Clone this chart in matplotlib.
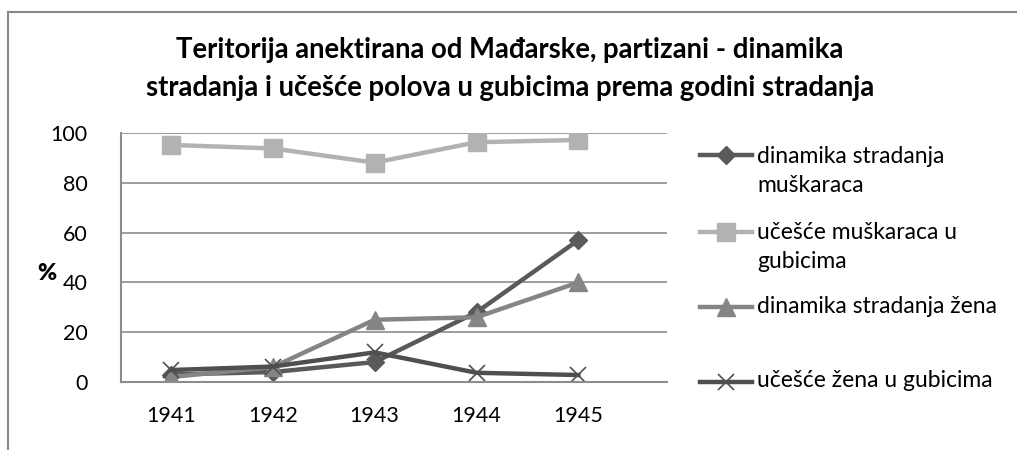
import matplotlib
matplotlib.use("Agg")
import matplotlib.pyplot as plt
from matplotlib.lines import Line2D

plt.rcParams['font.family'] = ['Lato', 'DejaVu Sans']

years = ['1941', '1942', '1943', '1944', '1945']
dinamika_muskaraca = [3, 4, 8, 28, 57]
ucesce_muskaraca = [95.2, 93.8, 88.1, 96.3, 97.2]
dinamika_zena = [2, 6, 25, 26, 40]
ucesce_zena = [4.8, 6.2, 11.9, 3.7, 2.8]

series = [
    ("dinamika stradanja\nmuškaraca", dinamika_muskaraca,
     dict(color='#5a5a5a', marker='D', markersize=9.5, linewidth=3.2)),
    ("učešće muškaraca u\ngubicima", ucesce_muskaraca,
     dict(color='#b2b2b2', marker='s', markersize=12.5, linewidth=3.2)),
    ("dinamika stradanja žena", dinamika_zena,
     dict(color='#858585', marker='^', markersize=12.5, linewidth=3.2)),
    ("učešće žena u gubicima", ucesce_zena,
     dict(color='#4f4f4f', marker='x', markersize=11, linewidth=3.2,
          markeredgewidth=1.2)),
]

W, H = 1017, 450
fig = plt.figure(figsize=(W / 100, H / 100), dpi=100)
ax = fig.add_axes([121 / W, (H - 382) / H, (667 - 121) / W, (382 - 133) / H])

x = list(range(len(years)))
for label, vals, style in series:
    ax.plot(x, vals, **style)

ax.set_ylim(0, 100)
ax.set_xlim(-0.49, 4.87)
ax.set_yticks([0, 20, 40, 60, 80, 100])
ax.set_xticks(x)
ax.set_xticklabels(years)
ax.tick_params(axis='both', length=0, labelsize=15.5, colors='#000000')
ax.tick_params(axis='y', pad=24)
ax.tick_params(axis='x', pad=17)
ax.grid(axis='y', color='#8c8c8c', linewidth=1.2)
ax.set_axisbelow(True)
for side in ['top', 'right']:
    ax.spines[side].set_visible(False)
for side in ['left', 'bottom']:
    ax.spines[side].set_color('#8c8c8c')
    ax.spines[side].set_linewidth(1.5)

fig.text(47 / W, 1 - 274 / H, '%', fontsize=16.5, fontweight='heavy',
         ha='center', va='center')

fig.text(510 / W, 1 - 50 / H,
         "Teritorija anektirana od Mađarske, partizani - dinamika",
         fontsize=19.8, fontweight='bold', ha='center', va='center')
fig.text(510 / W, 1 - 88 / H,
         "stradanja i učešće polova u gubicima prema godini stradanja",
         fontsize=19.8, fontweight='bold', ha='center', va='center')

# legend drawn entry by entry, handle aligned with the first text line;
# text is placed by the baseline of its last line
legend_y = [155, 232, 307, 382]
legend_baseline = [192, 268, 313, 387]
for (label, vals, style), ly, bl in zip(series, legend_y, legend_baseline):
    yf = 1 - ly / H
    line_style = {k: v for k, v in style.items()
                  if k not in ('marker', 'markersize', 'markeredgewidth')}
    fig.add_artist(Line2D([700 / W, 752 / W], [yf, yf], transform=fig.transFigure,
                          **line_style))
    fig.add_artist(Line2D([726 / W], [yf], transform=fig.transFigure,
                          linestyle='none', marker=style['marker'],
                          color=style['color'],
                          markersize=style['markersize'],
                          markeredgewidth=style.get('markeredgewidth', 1.0)))
    fig.text(757 / W, 1 - bl / H, label, fontsize=16.5, ha='left', va='baseline',
             linespacing=1.45)

# outer chart frame
fig.add_artist(Line2D([8 / W, 1], [1 - 12 / H, 1 - 12 / H], transform=fig.transFigure,
                      color='#888888', linewidth=1.5))
fig.add_artist(Line2D([8 / W, 8 / W], [1 - 12 / H, 0], transform=fig.transFigure,
                      color='#888888', linewidth=1.5))

fig.savefig('out.png', dpi=100)
